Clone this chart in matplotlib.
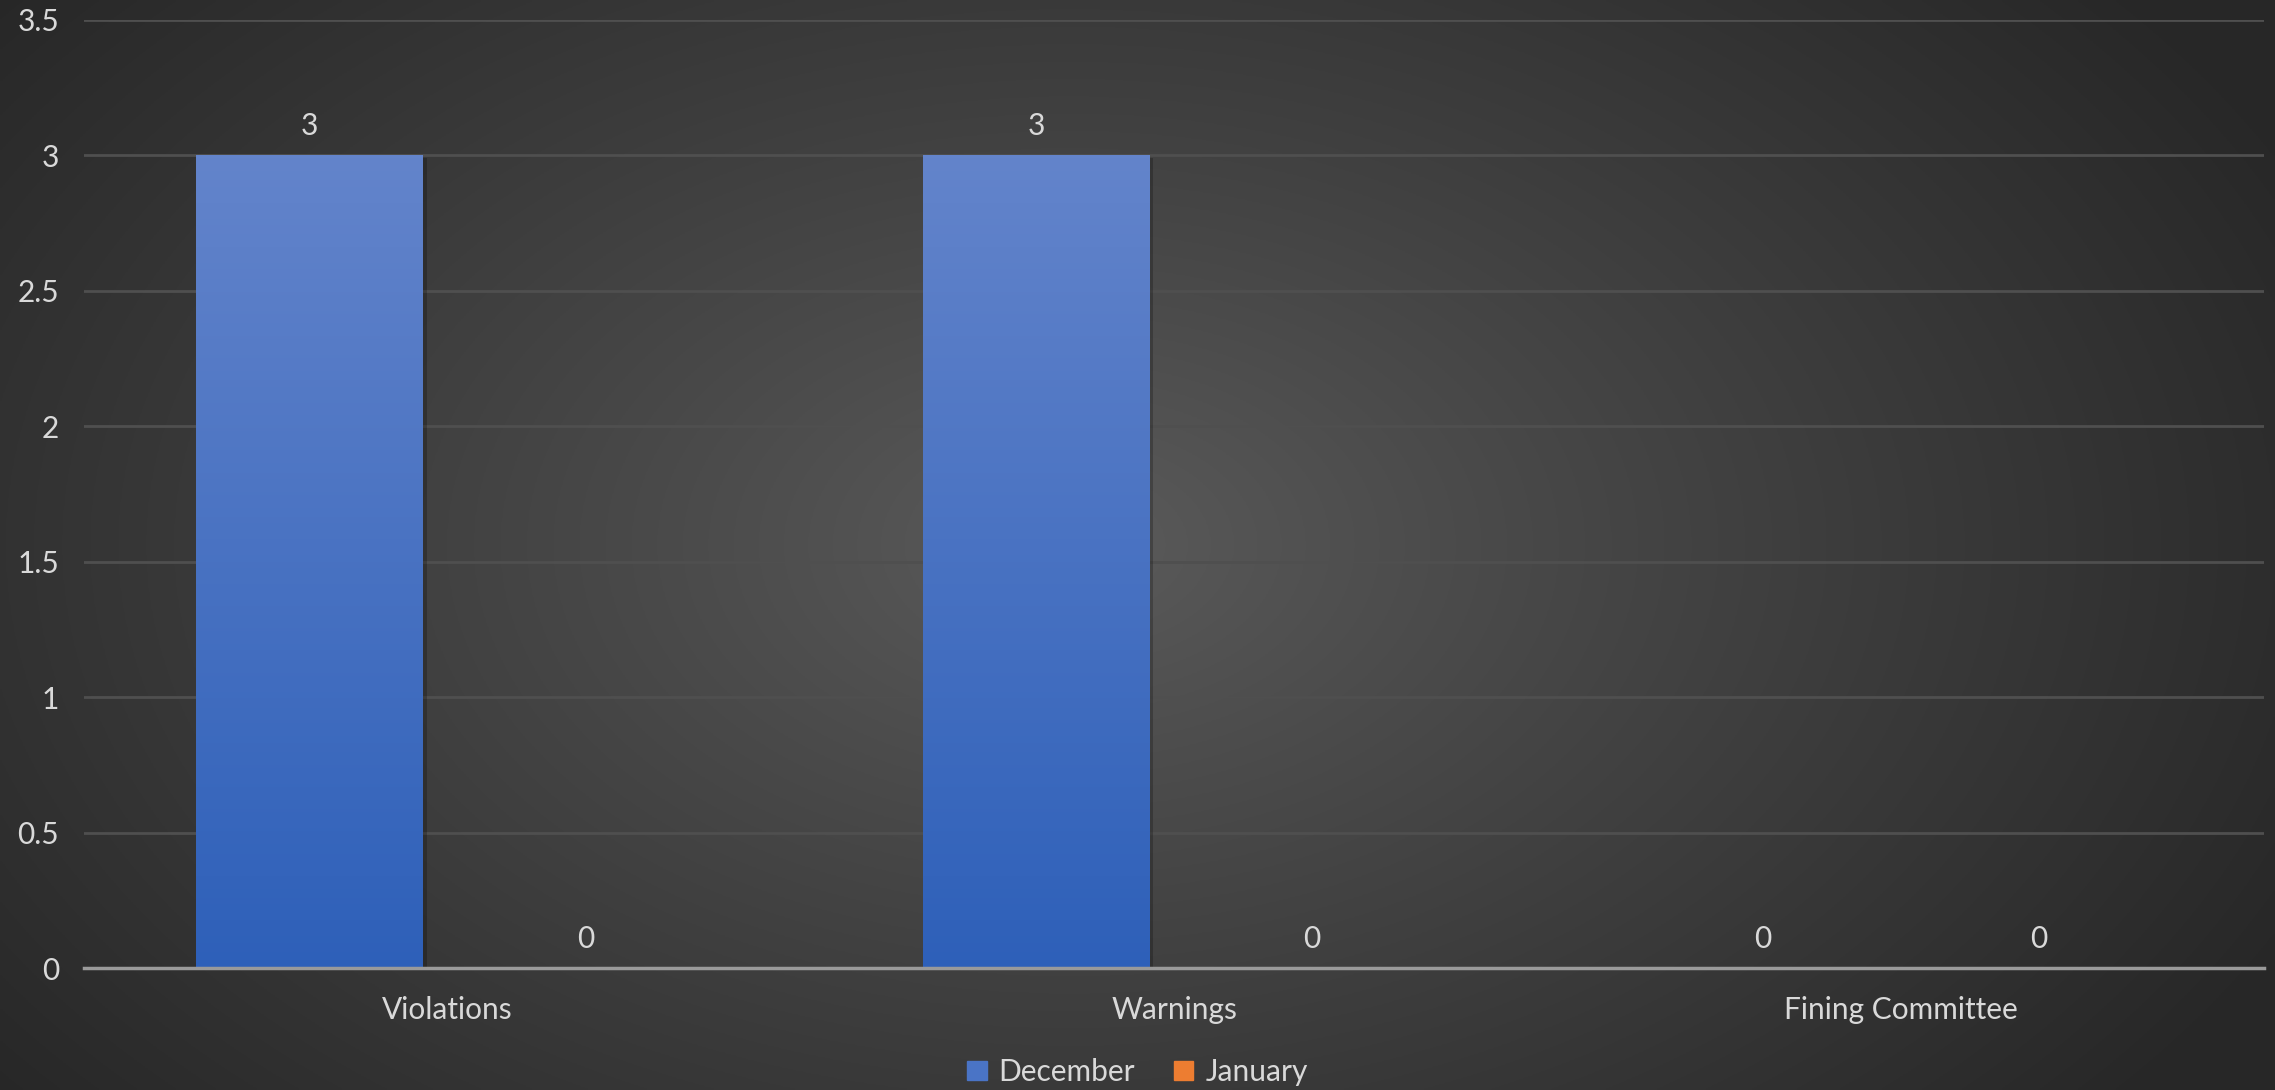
import numpy as np
import matplotlib.pyplot as plt
from matplotlib.patches import Patch

categories = ["Violations", "Warnings", "Fining Committee"]
december = [3, 3, 0]
january = [0, 0, 0]
series_names = ["December", "January"]
yticks = [0, 0.5, 1, 1.5, 2, 2.5, 3, 3.5]

plt.rcParams['font.family'] = ['Lato', 'DejaVu Sans']
txt = '#d9d9d9'
fs = 21.5

fig = plt.figure(figsize=(22.75, 10.9), dpi=100)

# radial background
bg = fig.add_axes([0, 0, 1, 1], zorder=0)
yy, xx = np.mgrid[0:1:400j, 0:1:800j]
r = np.sqrt(((xx - 0.47) / 0.6) ** 2 + ((yy - 0.5) / 0.8) ** 2)
r = np.clip(r, 0, 1)
c0, c1 = 0.36, 0.155
img = c0 + (c1 - c0) * r ** 0.9
bg.imshow(np.dstack([img, img, img]), extent=[0, 1, 0, 1], aspect='auto', origin='lower')
bg.axis('off')

ax = fig.add_axes([0.0369, 0.1119, 0.9583, 0.8698], zorder=1)
ax.patch.set_alpha(0)

x = np.arange(len(categories))
w = 0.311
off = 0.19
b1 = ax.bar(x - off, december, w, color='#4472C4', zorder=3)
b2 = ax.bar(x + off, january, w, color='#ED7D31', zorder=3)

top_c = np.array([0x63, 0x84, 0xCB]) / 255
bot_c = np.array([0x2E, 0x60, 0xB9]) / 255
grad = np.linspace(0, 1, 256)[:, None, None]
gimg = bot_c + (top_c - bot_c) * grad
gimg = np.repeat(gimg, 2, axis=1)
for bar in b1:
    if bar.get_height() <= 0:
        continue
    x0, y0 = bar.get_x(), bar.get_y()
    bw, bh = bar.get_width(), bar.get_height()
    # soft shadow
    ax.bar(x0 + bw / 2 + 0.006, bh, bw, bottom=-0.01, color='black', alpha=0.22, zorder=2)
    im = ax.imshow(gimg, extent=[x0, x0 + bw, y0, y0 + bh], origin='lower',
                   aspect='auto', zorder=4)
    im.set_clip_path(bar)

for bars, vals in [(b1, december), (b2, january)]:
    for bar, v in zip(bars, vals):
        ax.text(bar.get_x() + bar.get_width() / 2, v + 0.055, str(v),
                ha='center', va='bottom', color=txt, fontsize=fs, zorder=5)

ax.set_xlim(-0.5, len(categories) - 0.5)
ax.set_ylim(0, 3.5)
ax.set_yticks(yticks)
ax.set_yticklabels([f"{t:g}" for t in yticks])
ax.set_xticks(x)
ax.set_xticklabels(categories)
ax.tick_params(axis='both', length=0, colors=txt, labelsize=fs)
ax.tick_params(axis='x', pad=20)
ax.tick_params(axis='y', pad=18)
ax.grid(axis='y', color='#4f4f4f', linewidth=2, zorder=1)
for s in ['top', 'right', 'left']:
    ax.spines[s].set_visible(False)
ax.spines['bottom'].set_color('#9a9a9a')
ax.spines['bottom'].set_linewidth(2.5)
ax.spines['bottom'].set_zorder(6)

handles = [Patch(color='#4A74C6'), Patch(color='#ED7D31')]
fig.legend(handles, series_names, loc='lower center', bbox_to_anchor=(0.5, -0.021),
           ncol=2, frameon=False, fontsize=fs, labelcolor=txt,
           handlelength=0.65, handleheight=0.65, handletextpad=0.4, columnspacing=1.3)

fig.savefig('out.png', dpi=100)
